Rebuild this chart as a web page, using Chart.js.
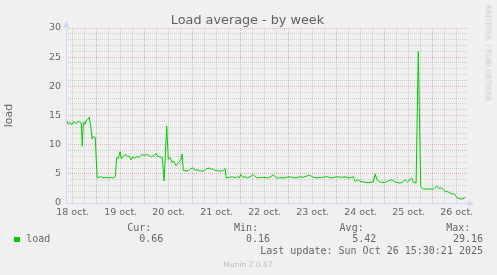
<!DOCTYPE html>
<html>
<head>
<meta charset="utf-8">
<script src="https://cdn.jsdelivr.net/npm/chart.js@4/dist/chart.umd.min.js"></script>
<style>
    body { margin: 0; background: #f0f0f0; }
    #wrap { position: relative; width: 497px; height: 275px; overflow: hidden; background: #f0f0f0; }
    #wrap canvas { position: absolute; left: 0; top: 0; }
    .mono { position: absolute; white-space: pre; font-family: "DejaVu Sans Mono", monospace; font-size: 10px; line-height: 12px; color: #666; }
    .title { position: absolute; left: 0; top: 12px; width: 495px; text-align: center; font-family: "DejaVu Sans", sans-serif; font-size: 12.8px; line-height: 16px; color: #606060; }
    .swatch { position: absolute; left: 14px; top: 237px; width: 6px; height: 5px; background: #00cc00; }
    .watermark { position: absolute; left: 248px; top: 264px; transform: translate(-50%, -50%); white-space: pre; font-family: "DejaVu Sans", sans-serif; font-size: 7.5px; color: #bbb; }
    .credit { position: absolute; left: 488px; top: 53px; transform: translate(-50%, -50%) rotate(90deg); white-space: pre; font-family: "DejaVu Sans", sans-serif; font-size: 7.5px; color: #ccc; }
</style>
</head>
<body>
<div id="wrap">
    <canvas id="load-chart" width="497" height="275"></canvas>
    <div class="title">Load average - by week</div>
    <div class="credit">RRDTOOL / TOBI OETIKER</div>
    <div id="legend"></div>
    <div class="watermark">Munin 2.0.67</div>
</div>
<script>
// hours since 18 oct 00:00
const hours = [
    9.0, 9.8, 10.7, 11.5, 12.7, 13.7, 14.8, 15.7, 16.3, 16.8, 17.3, 18.2, 18.7, 19.3, 20.3, 21.0,
    21.7, 22.3, 23.3, 24.2, 25.0, 26.2, 27.3, 28.7, 30.0, 31.2, 32.3, 33.3, 34.0, 34.8, 35.7, 36.3,
    37.3, 38.3, 39.3, 40.3, 41.2, 42.0, 43.2, 44.3, 45.3, 46.5, 47.7, 49.0, 50.3, 51.5, 52.7, 53.7,
    54.5, 55.7, 56.8, 57.7, 59.0, 59.8, 60.7, 61.5, 62.7, 63.7, 64.8, 66.0, 66.7, 67.3, 68.5, 69.8,
    71.0, 72.0, 73.2, 74.2, 75.7, 77.7, 79.0, 80.3, 81.5, 82.3, 83.2, 84.8, 87.0, 88.2, 88.7, 90.3,
    92.0, 93.2, 94.3, 95.3, 96.0, 97.0, 98.2, 99.3, 100.7, 102.3, 104.0, 107.3, 109.8, 112.3, 114.0,
    117.3, 120.7, 123.2, 125.7, 127.3, 130.3, 132.3, 134.0, 136.5, 139.0, 141.5, 144.0, 146.5, 148.2,
    150.7, 152.3, 153.2, 154.8, 155.7, 157.3, 159.8, 162.3, 163.3, 164.0, 165.7, 168.2, 169.8, 171.5,
    173.2, 175.7, 176.9, 178.2, 179.4, 181.5, 182.3, 183.7, 184.8, 186.0, 187.3, 189.7, 192.3, 194.0,
    195.2, 196.5, 198.2, 199.7, 201.5, 202.7, 204.3, 205.7, 206.7, 208.2
];
const loadValues = [
    14.1, 13.5, 13.8, 13.4, 14.0, 13.6, 14.1, 13.8, 13.7, 9.7, 13.8, 13.5, 14.1, 14.2, 14.7, 13.2,
    11.0, 11.4, 11.2, 4.3, 4.4, 4.5, 4.3, 4.4, 4.3, 4.4, 4.3, 4.5, 7.8, 7.6, 8.8, 7.6,
    8.0, 8.3, 8.0, 8.0, 7.4, 7.9, 7.7, 8.0, 7.8, 8.3, 8.2, 8.3, 8.1, 7.9, 8.2, 8.5,
    8.0, 7.9, 7.8, 3.8, 13.2, 7.5, 7.8, 7.0, 7.1, 6.4, 6.9, 7.3, 8.4, 5.6, 5.5, 5.5,
    5.9, 6.0, 5.6, 5.7, 5.5, 5.5, 5.9, 6.0, 5.8, 5.8, 5.6, 5.5, 5.5, 5.9, 4.3, 4.4,
    4.5, 4.3, 4.5, 4.3, 4.9, 4.4, 4.5, 4.3, 4.5, 4.9, 4.3, 4.4, 4.3, 4.8, 4.3,
    4.3, 4.5, 4.3, 4.5, 4.4, 4.8, 4.4, 4.3, 4.4, 4.5, 4.3, 4.5, 4.4, 4.5,
    4.3, 4.5, 3.7, 4.0, 3.7, 3.6, 3.5, 3.6, 5.0, 4.0, 3.6, 3.5, 3.8, 4.0,
    3.6, 3.4, 3.6, 4.0, 3.6, 4.3, 3.6, 3.4, 26.0, 2.8, 2.4, 2.4, 2.4, 2.9,
    2.5, 2.6, 2.0, 1.9, 1.55, 1.6, 0.86, 0.7, 0.7, 0.95
];
const dayLabels = ['18 oct.', '19 oct.', '20 oct.', '21 oct.', '22 oct.', '23 oct.', '24 oct.', '25 oct.', '26 oct.'];
const xStart = 8.65, xEnd = 209.65;

const statNames = ['Cur:', 'Min:', 'Avg:', 'Max:'];
const statValues = ['0.66', '0.16', '5.42', '29.16'];
const lastUpdate = 'Last update: Sun Oct 26 15:30:21 2025';

const GRID = 'rgba(143, 143, 143, 0.35)';
const MGRID = 'rgba(224, 80, 80, 0.38)';
const AXIS = '#cfd6f8';

// legend rows, placed like rrdtool's monospaced layout
const legend = document.getElementById('legend');
function addText(text, left, top) {
    const d = document.createElement('div');
    d.className = 'mono';
    d.style.left = left + 'px';
    d.style.top = top + 'px';
    d.textContent = text;
    legend.appendChild(d);
    return d;
}
const sw = document.createElement('div');
sw.className = 'swatch';
legend.appendChild(sw);
addText('load', 26.3, 233.3);
const nameLeft = [127.3, 234, 339.6, 446.3];
const valueRight = [163.3, 270, 376.3, 483];
statNames.forEach((n, i) => {
    addText(n, nameLeft[i], 222.3);
    addText(statValues[i], valueRight[i] - statValues[i].length * 6.02, 233.3);
});
addText(lastUpdate, 483 - lastUpdate.length * 6.02, 245);

const axisArrows = {
    id: 'axisArrows',
    afterDraw(chart) {
        const { ctx, chartArea: a } = chart;
        ctx.save();
        ctx.strokeStyle = AXIS;
        ctx.fillStyle = AXIS;
        ctx.lineWidth = 1;
        ctx.beginPath();
        ctx.moveTo(a.left + 0.5, a.bottom);
        ctx.lineTo(a.left + 0.5, a.top - 4);
        ctx.moveTo(a.left, a.bottom + 0.5);
        ctx.lineTo(a.right + 4, a.bottom + 0.5);
        ctx.stroke();
        ctx.beginPath();
        ctx.moveTo(a.left + 0.5, a.top - 7);
        ctx.lineTo(a.left + 3.5, a.top - 0.5);
        ctx.lineTo(a.left - 2.5, a.top - 0.5);
        ctx.closePath();
        ctx.fill();
        ctx.beginPath();
        ctx.moveTo(a.right + 6, a.bottom + 0.5);
        ctx.lineTo(a.right, a.bottom - 2.5);
        ctx.lineTo(a.right, a.bottom + 3.5);
        ctx.closePath();
        ctx.fill();
        ctx.restore();
    }
};

new Chart(document.getElementById('load-chart').getContext('2d'), {
    type: 'line',
    data: {
        datasets: [{
            label: 'load',
            data: hours.map((h, i) => ({ x: h, y: loadValues[i] })),
            borderColor: '#00cc00',
            borderWidth: 1,
            pointRadius: 0,
            tension: 0,
            fill: false
        }]
    },
    options: {
        responsive: false,
        animation: false,
        devicePixelRatio: 1,
        layout: { padding: { top: 28, right: 29, left: 0, bottom: 0 } },
        plugins: {
            legend: { display: false },
            tooltip: { enabled: false }
        },
        scales: {
            x: {
                type: 'linear',
                min: xStart,
                max: xEnd,
                afterFit: (scale) => { scale.height = 72; },
                afterBuildTicks: (scale) => {
                    const t = [];
                    for (let h = 12; h <= scale.max; h += 6) t.push({ value: h });
                    scale.ticks = t;
                },
                border: { display: false, dash: [1, 1] },
                grid: {
                    drawTicks: false,
                    color: (c) => (c.tick && c.tick.value % 24 === 0 ? MGRID : GRID)
                },
                ticks: {
                    autoSkip: false,
                    maxRotation: 0,
                    padding: 4,
                    color: '#666',
                    font: { family: 'DejaVu Sans', size: 9.5 },
                    callback: (v) => (v % 24 === 12 ? dayLabels[(v - 12) / 24] : '')
                }
            },
            y: {
                min: 0,
                max: 30,
                afterFit: (scale) => { scale.width = 66; },
                border: { display: false, dash: [1, 1] },
                grid: {
                    drawTicks: false,
                    color: (c) => (c.tick && c.tick.value % 5 === 0 ? MGRID : GRID)
                },
                ticks: {
                    stepSize: 1,
                    autoSkip: false,
                    padding: 5,
                    color: '#666',
                    font: { family: 'DejaVu Sans', size: 9.5 },
                    callback: (v) => (v % 5 === 0 ? v : '')
                },
                title: {
                    display: true,
                    text: 'load',
                    color: '#666',
                    padding: { top: 3, bottom: 0 },
                    font: { family: 'DejaVu Sans', size: 11 }
                }
            }
        }
    },
    plugins: [axisArrows]
});
</script>
</body>
</html>
